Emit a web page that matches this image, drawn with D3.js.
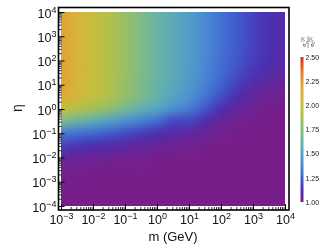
<!DOCTYPE html>
<html><head><meta charset="utf-8">
<script src="https://cdn.jsdelivr.net/npm/d3@7"></script>
<style>
html,body{margin:0;padding:0;background:#fff;}
#wrap{position:relative;width:334px;height:250px;}
canvas,svg{position:absolute;left:0;top:0;}
text{font-family:"Liberation Sans",Arial,sans-serif;}
</style></head>
<body><div id="wrap"><canvas id="cv" width="334" height="250"></canvas><svg id="sv" width="334" height="250"></svg></div>
<script>
// log10(m / GeV) grid columns
const logM = [-3,-2.5,-2,-1.5,-1,-0.5,0,0.5,1,1.5,2,2.5,3,3.5,4];
// log10(eta) grid rows (top to bottom)
const logEta = [4,3.5,3,2.5,2,1.5,1,0.5,0,-0.5,-1,-1.5,-2,-2.5,-3,-3.5,-4];
// ratio values, rows follow logEta, columns follow logM
const ratio = [
[2.22,2.12,2.02,1.93,1.82,1.72,1.63,1.55,1.47,1.38,1.30,1.23,1.17,1.13,1.10],
[2.22,2.12,2.02,1.93,1.82,1.72,1.63,1.55,1.47,1.38,1.30,1.23,1.17,1.13,1.10],
[2.22,2.12,2.02,1.93,1.82,1.72,1.63,1.55,1.47,1.38,1.30,1.23,1.17,1.13,1.10],
[2.22,2.12,2.02,1.93,1.82,1.72,1.63,1.55,1.47,1.38,1.30,1.23,1.17,1.13,1.09],
[2.22,2.12,2.02,1.93,1.82,1.72,1.63,1.55,1.47,1.38,1.29,1.22,1.16,1.12,1.08],
[2.22,2.12,2.02,1.93,1.82,1.72,1.63,1.55,1.46,1.37,1.28,1.20,1.14,1.10,1.07],
[2.21,2.11,2.01,1.92,1.81,1.71,1.62,1.53,1.45,1.35,1.25,1.16,1.10,1.06,1.04],
[2.17,2.08,1.99,1.90,1.80,1.70,1.60,1.50,1.42,1.31,1.20,1.11,1.06,1.03,1.02],
[2.00,1.93,1.85,1.77,1.68,1.58,1.50,1.40,1.33,1.22,1.12,1.06,1.03,1.01,1.01],
[1.70,1.63,1.56,1.48,1.41,1.34,1.28,1.18,1.18,1.10,1.05,1.02,1.01,1.00,1.00],
[1.33,1.30,1.27,1.23,1.19,1.16,1.12,1.09,1.07,1.04,1.02,1.01,1.00,1.00,1.00],
[1.17,1.14,1.12,1.10,1.08,1.06,1.04,1.03,1.02,1.01,1.00,1.00,1.00,1.00,1.00],
[1.06,1.05,1.04,1.03,1.02,1.02,1.01,1.01,1.00,1.00,1.00,1.00,1.00,1.00,1.00],
[1.02,1.02,1.01,1.01,1.01,1.00,1.00,1.00,1.00,1.00,1.00,1.00,1.00,1.00,1.00],
[1.01,1.01,1.00,1.00,1.00,1.00,1.00,1.00,1.00,1.00,1.00,1.00,1.00,1.00,1.00],
[1.00,1.00,1.00,1.00,1.00,1.00,1.00,1.00,1.00,1.00,1.00,1.00,1.00,1.00,1.00],
[1.00,1.00,1.00,1.00,1.00,1.00,1.00,1.00,1.00,1.00,1.00,1.00,1.00,1.00,1.00]
];
const xTickExp = [-3,-2,-1,0,1,2,3,4];
const yTickExp = [-4,-3,-2,-1,0,1,2,3,4];
const cbTicks = [1.00,1.25,1.50,1.75,2.00,2.25,2.50];
const cStops = [1.0,1.125,1.25,1.375,1.5,1.625,1.75,1.875,2.0,2.125,2.25,2.375,2.5];
const cColors = ["#781e8a","#4b2fb0","#3f62d2","#4a88d4","#55a3c4","#68b3a6","#86bd7c","#a7c052","#c3bf40","#d9b23a","#e29d33","#e26a29","#d8301f"];

const color = d3.scaleLinear().domain(cStops).range(cColors).clamp(true);
const x = d3.scaleLog().domain([1e-3,1e4]).range([61,285]);
const y = d3.scaleLog().domain([1e-4,1e4]).range([206,12]);

// heatmap: draw value grid into small canvas, scale smoothly into plot area
const nC = logM.length, nR = logEta.length;
const small = document.createElement("canvas");
small.width = nC; small.height = nR;
const sctx = small.getContext("2d");
const img = sctx.createImageData(nC, nR);
ratio.forEach((row, r) => row.forEach((v, c) => {
  const col = d3.rgb(color(v));
  const k = (r*nC + c)*4;
  img.data[k]=col.r; img.data[k+1]=col.g; img.data[k+2]=col.b; img.data[k+3]=255;
}));
sctx.putImageData(img,0,0);
const ctx = document.getElementById("cv").getContext("2d");
const dx = 0.25, dy = 0.25;
const x0 = x(Math.pow(10, logM[0]-dx)), x1 = x(Math.pow(10, logM[nC-1]+dx));
const y0 = y(Math.pow(10, logEta[0]+dy)), y1 = y(Math.pow(10, logEta[nR-1]-dy));
ctx.save();
ctx.beginPath();
ctx.rect(x(1e-3), y(1e4), x(1e4)-x(1e-3), y(1e-4)-y(1e4));
ctx.clip();
ctx.imageSmoothingEnabled = true;
ctx.imageSmoothingQuality = "high";
ctx.drawImage(small, x0, y0, x1-x0, y1-y0);
ctx.restore();

const svg = d3.select("#sv");

// frame
svg.append("rect").attr("x",58.5).attr("y",7.5).attr("width",230.5).attr("height",202.5)
  .attr("fill","none").attr("stroke","#000").attr("stroke-width",1.6);

function minorVals(exps){
  const out=[];
  for(let i=0;i<exps.length-1;i++) for(let k=2;k<=9;k++) out.push(k*Math.pow(10,exps[i]));
  return out;
}
const bottomY = 210, leftX = 58.5;
// x axis minor
svg.append("g").attr("transform",`translate(0,${bottomY})`)
  .call(d3.axisBottom(x).tickValues(minorVals(xTickExp)).tickSize(-3).tickFormat(""))
  .call(g=>g.select(".domain").remove())
  .call(g=>g.selectAll("line").attr("stroke","#000").attr("stroke-width",0.8));
// x axis major
const gx = svg.append("g").attr("transform",`translate(0,${bottomY})`)
  .call(d3.axisBottom(x).tickValues(xTickExp.map(e=>Math.pow(10,e))).tickSize(-6).tickPadding(5))
  .call(g=>g.select(".domain").remove())
  .call(g=>g.selectAll("line").attr("stroke","#000").attr("stroke-width",1));
gx.selectAll("text").each(function(d,i){
  const t=d3.select(this).text("").attr("font-size",12.5).attr("fill","#111").attr("dy","0").attr("y",13.5);
  t.append("tspan").text("10");
  t.append("tspan").attr("dy",-5).attr("font-size",9).text(String(xTickExp[i]).replace("-","\u2212"));
});
// y axis minor
svg.append("g").attr("transform",`translate(${leftX},0)`)
  .call(d3.axisLeft(y).tickValues(minorVals(yTickExp)).tickSize(-3).tickFormat(""))
  .call(g=>g.select(".domain").remove())
  .call(g=>g.selectAll("line").attr("stroke","#000").attr("stroke-width",0.8));
const gy = svg.append("g").attr("transform",`translate(${leftX},0)`)
  .call(d3.axisLeft(y).tickValues(yTickExp.map(e=>Math.pow(10,e))).tickSize(-6).tickPadding(4))
  .call(g=>g.select(".domain").remove())
  .call(g=>g.selectAll("line").attr("stroke","#000").attr("stroke-width",1));
gy.selectAll("text").each(function(d,i){
  const t=d3.select(this).text("").attr("font-size",12.5).attr("fill","#111").attr("dy","0.4em").attr("x",-2);
  t.append("tspan").text("10");
  t.append("tspan").attr("dy",-5).attr("font-size",9).text(String(yTickExp[i]).replace("-","\u2212"));
});

// axis titles
svg.append("text").attr("x",173).attr("y",241).attr("text-anchor","middle")
  .attr("font-size",13).attr("fill","#111").text("m (GeV)");
svg.append("text").attr("transform","translate(22,108) rotate(-90)").attr("text-anchor","middle")
  .attr("font-size",14).attr("fill","#111").text("η");

// colorbar
const cb = d3.scaleLinear().domain([1,2.5]).range([202,57]);
const defs = svg.append("defs");
const grad = defs.append("linearGradient").attr("id","cbg").attr("x1",0).attr("y1",1).attr("x2",0).attr("y2",0);
cStops.forEach((s,i)=>grad.append("stop").attr("offset",(s-1)/1.5).attr("stop-color",cColors[i]));
svg.append("rect").attr("x",300.5).attr("y",cb(2.5)).attr("width",3).attr("height",cb(1)-cb(2.5)).attr("fill","url(#cbg)");
const gcb = svg.append("g").attr("transform","translate(303.5,0)")
  .call(d3.axisRight(cb).tickValues(cbTicks).tickSize(0).tickPadding(2).tickFormat(d3.format(".2f")))
  .call(g=>g.select(".domain").remove());
gcb.selectAll("text").attr("font-size",7).attr("fill","#222");

// colorbar title: rotated fraction
const ct = svg.append("g").attr("transform","translate(308,42) rotate(-90)");
const num = ct.append("text").attr("x",0).attr("y",-2).attr("text-anchor","middle").attr("font-size",5.5).attr("fill","#333");
num.append("tspan").text("σ");
num.append("tspan").attr("font-size",3.5).attr("dy",1.5).text("η");
num.append("tspan").attr("font-size",3.5).attr("dy",-3.5).text("(0)");
ct.append("line").attr("x1",-6).attr("x2",6).attr("y1",0).attr("y2",0).attr("stroke","#333").attr("stroke-width",0.5);
const den = ct.append("text").attr("x",0).attr("y",5.5).attr("text-anchor","middle").attr("font-size",5.5).attr("fill","#333");
den.append("tspan").text("σ");
den.append("tspan").attr("font-size",3.5).attr("dy",1.5).text("0");
den.append("tspan").attr("font-size",3.5).attr("dy",-3.5).text("(0)");
</script></body></html>
